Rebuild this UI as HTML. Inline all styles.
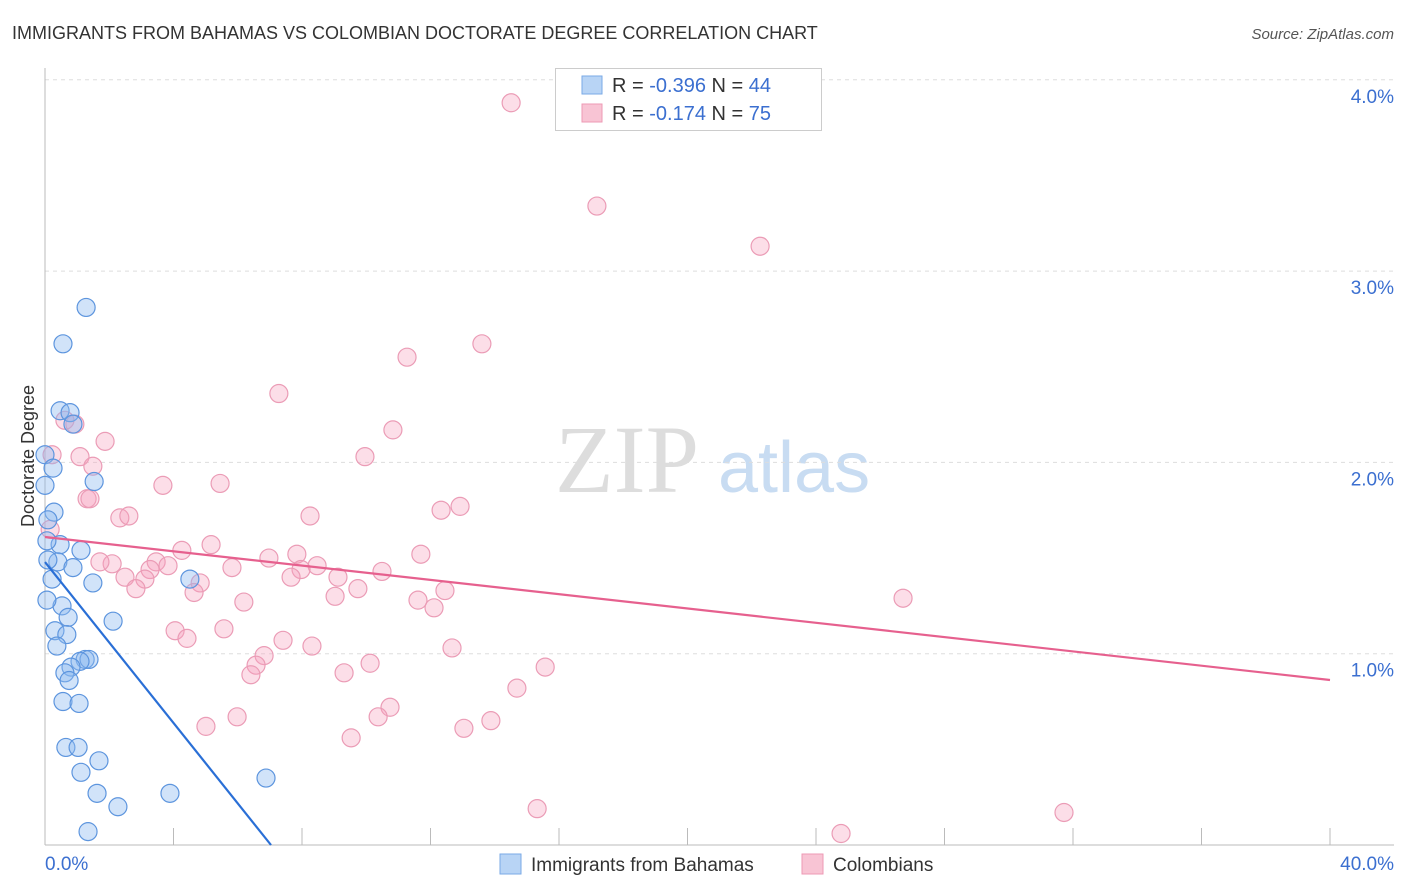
<!DOCTYPE html>
<html><head><meta charset="utf-8"><style>
body{margin:0;background:#fff;font-family:"Liberation Sans",sans-serif}
</style></head><body>
<svg width="1406" height="892" style="display:block">
<text x="12" y="39" font-size="18" fill="#333">IMMIGRANTS FROM BAHAMAS VS COLOMBIAN DOCTORATE DEGREE CORRELATION CHART</text>
<text x="1394" y="39" font-size="15" fill="#555" font-style="italic" text-anchor="end">Source: ZipAtlas.com</text>
<text x="555" y="492" font-size="96" fill="#ddd" font-family="Liberation Serif">ZIP</text>
<text x="718" y="492" font-size="72" fill="#c8dcf2">atlas</text>
<g id="grid"></g><g id="axes"></g><g id="pts"></g><g id="lines"></g>
<text transform="translate(34,456) rotate(-90)" font-size="18" fill="#333" text-anchor="middle">Doctorate Degree</text>
<g>
<rect x="555.5" y="68.5" width="266" height="62" fill="#fff" stroke="#ccc"/>
<rect x="582" y="76" width="20" height="18" fill="#b8d4f5" stroke="#7aaae6"/>
<rect x="582" y="104" width="20" height="18" fill="#f8c4d4" stroke="#ee9ab4"/>
<text x="612" y="92" font-size="20" fill="#333">R = <tspan fill="#3b6fd0">-0.396</tspan>   N = <tspan fill="#3b6fd0">44</tspan></text>
<text x="612" y="120" font-size="20" fill="#333">R =  <tspan fill="#3b6fd0">-0.174</tspan>   N =  <tspan fill="#3b6fd0">75</tspan></text>
</g>
<g>
<rect x="500" y="854" width="21" height="20" fill="#b8d4f5" stroke="#7aaae6"/>
<text x="531" y="871" font-size="19" fill="#333">Immigrants from Bahamas</text>
<rect x="802" y="854" width="21" height="20" fill="#f8c4d4" stroke="#ee9ab4"/>
<text x="833" y="871" font-size="19" fill="#333">Colombians</text>
</g>
</svg>
<script>
const blueX=[1.28,0.56,0.47,0.78,0.87,0,0.25,1.53,0,0.28,0.09,0.47,0.06,1.12,0.40,0.87,1.49,0.22,0.53,0.72,2.12,0.31,0.68,0.37,1.25,1.37,1.09,0.81,0.62,0.75,0.56,1.06,0.65,1.03,1.68,1.12,1.62,2.27,3.89,6.88,1.34,4.51,0.09,0.06];
const blueY=[2.81,2.62,2.27,2.26,2.20,2.04,1.97,1.90,1.88,1.74,1.70,1.57,1.59,1.54,1.48,1.45,1.37,1.39,1.25,1.19,1.17,1.12,1.10,1.04,0.97,0.97,0.96,0.93,0.90,0.86,0.75,0.74,0.51,0.51,0.44,0.38,0.27,0.20,0.27,0.35,0.07,1.39,1.49,1.28];
const pinkX=[14.51,17.18,22.26,13.60,11.27,7.28,10.83,0.62,0.93,1.87,0.22,1.09,1.49,9.96,3.67,5.45,1.31,12.92,12.33,8.25,2.33,2.61,0.16,11.70,7.84,6.97,5.17,4.26,3.46,2.09,1.71,5.82,8.47,3.27,3.11,2.49,3.83,7.97,10.49,7.66,9.12,4.83,2.83,4.64,9.03,9.74,11.61,12.11,12.45,6.19,26.71,4.05,4.42,5.57,7.41,8.31,12.67,6.82,6.57,6.41,10.12,9.31,15.57,14.69,10.74,10.37,5.98,5.01,13.88,13.04,9.53,15.32,31.72,24.78,1.40];
const pinkY=[3.88,3.34,3.13,2.62,2.55,2.36,2.17,2.22,2.20,2.11,2.04,2.03,1.98,2.03,1.88,1.89,1.81,1.77,1.75,1.72,1.71,1.72,1.65,1.52,1.52,1.50,1.57,1.54,1.48,1.47,1.48,1.45,1.46,1.44,1.39,1.40,1.46,1.44,1.43,1.40,1.40,1.37,1.34,1.32,1.30,1.34,1.28,1.24,1.33,1.27,1.29,1.12,1.08,1.13,1.07,1.04,1.03,0.99,0.94,0.89,0.95,0.90,0.93,0.82,0.72,0.67,0.67,0.62,0.65,0.61,0.56,0.19,0.17,0.06,1.81];
const blueTrend=[[0,1.479],[7.035,0]];
const pinkTrend=[[0,1.61],[40,0.8625]];
const yTicks=[1,2,3,4];
const yTickLabels=["1.0%","2.0%","3.0%","4.0%"];
const xTicks=[0,4,8,12,16,20,24,28,32,36,40];
const NS="http://www.w3.org/2000/svg";
const sx=v=>45+v*(1285/40), sy=v=>845-v*191.3;
function mk(tag,attrs,parent){const e=document.createElementNS(NS,tag);for(const k in attrs)e.setAttribute(k,attrs[k]);document.getElementById(parent).appendChild(e);return e;}
yTicks.forEach((t,i)=>{
 const g=mk('line',{x1:45,x2:1394,y1:sy(t),y2:sy(t),stroke:'#ddd','stroke-dasharray':'4,4'},'grid');
 
 
 const l=mk('text',{x:1394,y:sy(t)+23,'font-size':19,fill:'#3b6fd0','text-anchor':'end'},'grid');
 l.textContent=yTickLabels[i];
 
 
});
const ax=mk('line',{x1:45,x2:45,y1:68,y2:845,stroke:'#bbb'},'axes');


const bx=mk('line',{x1:45,x2:1394,y1:845,y2:845,stroke:'#bbb'},'axes');


xTicks.forEach(t=>{
 const k=mk('line',{x1:sx(t),x2:sx(t),y1:828,y2:845,stroke:'#bbb'},'axes');
 
 
});
const x0=mk('text',{x:45,y:870,'font-size':19,fill:'#3b6fd0'},'axes');x0.textContent='0.0%';


const x1=mk('text',{x:1394,y:870,'font-size':19,fill:'#3b6fd0','text-anchor':'end'},'axes');x1.textContent='40.0%';


pinkX.forEach((v,i)=>{
 const c=mk('circle',{cx:sx(v),cy:sy(pinkY[i]),r:9,fill:'rgba(245,160,190,0.35)',stroke:'#eb9cb6','stroke-width':1.2},'pts');
 
 
});
blueX.forEach((v,i)=>{
 const c=mk('circle',{cx:sx(v),cy:sy(blueY[i]),r:9,fill:'rgba(140,185,240,0.4)',stroke:'#5d95de','stroke-width':1.2},'pts');
 
 
});
const bl=mk('line',{x1:sx(blueTrend[0][0]),y1:sy(blueTrend[0][1]),x2:sx(blueTrend[1][0]),y2:sy(blueTrend[1][1]),stroke:'#2a6fd6','stroke-width':2.2},'lines');


const pl=mk('line',{x1:sx(pinkTrend[0][0]),y1:sy(pinkTrend[0][1]),x2:sx(pinkTrend[1][0]),y2:sy(pinkTrend[1][1]),stroke:'#e6608e','stroke-width':2.2},'lines');


</script>
</body></html>
